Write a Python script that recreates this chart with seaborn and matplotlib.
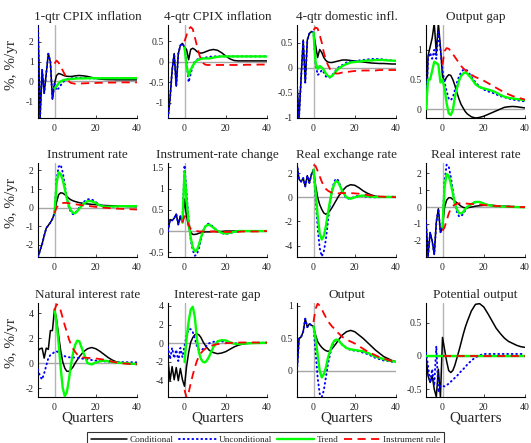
import numpy as np
import pandas as pd
import matplotlib
matplotlib.use("Agg")
import matplotlib.pyplot as plt
from matplotlib.lines import Line2D
import seaborn as sns

n = np.nan

# Quarter grid: quarterly up to 12, then every second quarter to 40
quarters = list(range(-8, 13)) + list(range(14, 41, 2))

# ---- 1-qtr CPIX inflation
cpi1_cond = [2.9, -1.85, 0.6, -0.6, 0.4, 1.4, 1.0, -0.9, -0.1,
             0.3, 0.4, 0.37, 0.32, 0.28, 0.26, 0.25, 0.25, 0.26, 0.28, 0.29, 0.3,
             0.28, 0.25, 0.2, 0.15, 0.12, 0.1, 0.09, 0.09, 0.08, 0.08, 0.08, 0.08, 0.08, 0.08]
cpi1_unc = [2.9, -1.85, 0.6, -0.6, 0.4, 1.4, 1.0, -0.9, -0.1,
            -0.45, -0.35, -0.2, -0.05, 0.05, 0.1, 0.13, 0.15, 0.17, 0.18, 0.18, 0.18,
            0.17, 0.16, 0.15, 0.15, 0.15, 0.15, 0.15, 0.15, 0.15, 0.15, 0.15, 0.15, 0.15, 0.15]
cpi1_trend = [n, n, n, n, n, n, n, n, -0.35,
              -0.25, -0.1, 0.0, 0.05, 0.08, 0.1, 0.11, 0.12, 0.13, 0.14, 0.15, 0.15,
              0.15, 0.16, 0.16, 0.16, 0.16, 0.16, 0.16, 0.16, 0.16, 0.16, 0.16, 0.16, 0.16, 0.16]
cpi1_rule = [n, n, n, n, n, n, n, n, 0.9,
             1.05, 0.95, 0.75, 0.55, 0.35, 0.15, 0.0, -0.08, -0.1, -0.12, -0.12, -0.11,
             -0.1, -0.09, -0.08, -0.08, -0.07, -0.07, -0.06, -0.06, -0.06, -0.05, -0.05, -0.05, -0.05, -0.05]

# ---- 4-qtr CPIX inflation
cpi4_cond = [-1.38, -0.9, -0.2, 0.2, -0.6, 0.2, 0.4, 0.45, 0.35,
             0.3, 0.05, 0.3, 0.33, 0.3, 0.25, 0.22, 0.21, 0.22, 0.24, 0.26, 0.28,
             0.3, 0.28, 0.22, 0.14, 0.07, 0.03, 0.02, 0.02, 0.02, 0.02, 0.02, 0.02, 0.02, 0.02]
cpi4_unc = [-1.38, -0.9, -0.2, 0.2, -0.6, 0.2, 0.4, 0.45, 0.35,
            0.0, -0.5, -0.3, -0.1, 0.0, 0.05, 0.07, 0.08, 0.09, 0.1, 0.11, 0.12,
            0.13, 0.13, 0.13, 0.13, 0.13, 0.13, 0.13, 0.13, 0.13, 0.13, 0.13, 0.13, 0.13, 0.13]
cpi4_trend = [n, n, n, n, n, n, n, n, 0.35,
              -0.1, -0.35, -0.2, -0.1, -0.02, 0.03, 0.05, 0.07, 0.08, 0.08, 0.08, 0.08,
              0.1, 0.12, 0.13, 0.13, 0.13, 0.13, 0.13, 0.13, 0.13, 0.13, 0.13, 0.13, 0.13, 0.13]
cpi4_rule = [n, n, n, n, n, n, n, n, 0.5,
             0.65, 0.8, 0.85, 0.8, 0.6, 0.4, 0.2, 0.05, -0.03, -0.07, -0.08, -0.08,
             -0.08, -0.08, -0.08, -0.08, -0.08, -0.08, -0.08, -0.08, -0.075, -0.075, -0.075, -0.07, -0.07, -0.07]

# ---- 4-qtr domestic inflation
dom4_cond = [-0.35, -1.0, -0.2, 0.55, -0.3, 0.55, 0.68, 0.72, 0.7,
             0.45, 0.2, 0.36, 0.3, 0.2, 0.14, 0.11, 0.1, 0.1, 0.11, 0.12, 0.13,
             0.15, 0.15, 0.14, 0.13, 0.12, 0.11, 0.1, 0.09, 0.085, 0.08, 0.08, 0.075, 0.07, 0.07]
dom4_unc = [-0.35, -1.0, -0.2, 0.55, -0.3, 0.55, 0.68, 0.72, 0.7,
            0.1, -0.15, -0.12, -0.05, -0.1, -0.18, -0.2, -0.2, -0.16, -0.1, -0.05, 0.0,
            0.05, 0.1, 0.12, 0.13, 0.14, 0.15, 0.16, 0.17, 0.17, 0.17, 0.16, 0.15, 0.14, 0.13]
dom4_trend = [n, n, n, n, n, n, n, n, 0.7,
              0.1, -0.03, 0.03, 0.0, -0.05, -0.12, -0.17, -0.19, -0.17, -0.12, -0.07, -0.03,
              0.03, 0.07, 0.1, 0.11, 0.12, 0.13, 0.14, 0.14, 0.15, 0.15, 0.15, 0.14, 0.14, 0.13]
dom4_rule = [n, n, n, n, n, n, n, n, 0.75,
             0.8, 0.78, 0.65, 0.5, 0.3, 0.15, 0.05, -0.03, -0.07, -0.1, -0.12, -0.12,
             -0.1, -0.09, -0.08, -0.07, -0.07, -0.06, -0.06, -0.06, -0.06, -0.05, -0.05, -0.05, -0.05, -0.05]

# ---- Output gap
gap_cond = [-0.15, 0.9, 1.05, 1.2, 1.45, 0.95, 1.45, 1.05, 0.55,
            0.47, 0.54, 0.58, 0.57, 0.5, 0.4, 0.28, 0.17, 0.08, 0.02, -0.04, -0.08,
            -0.13, -0.15, -0.14, -0.12, -0.09, -0.06, -0.03, 0.0, 0.03, 0.04, 0.045, 0.04, 0.03, 0.02]
gap_unc = [0.0, 0.85, 0.95, 0.85, 1.0, 0.85, 1.3, 1.0, 0.65,
           0.45, 0.3, 0.18, 0.15, 0.2, 0.32, 0.45, 0.55, 0.62, 0.66, 0.67, 0.65,
           0.55, 0.45, 0.38, 0.33, 0.3, 0.28, 0.25, 0.22, 0.2, 0.18, 0.16, 0.15, 0.14, 0.13]
gap_trend = [0.0, 0.5, 0.5, 0.65, 0.8, 0.78, 0.75, 0.45, 0.5,
             0.35, 0.1, -0.07, -0.1, -0.02, 0.2, 0.35, 0.48, 0.56, 0.6, 0.62, 0.6,
             0.52, 0.42, 0.37, 0.35, 0.33, 0.31, 0.28, 0.24, 0.21, 0.19, 0.18, 0.17, 0.16, 0.15]
gap_rule = [n, n, n, n, n, n, n, n, 0.75,
            0.98, 1.03, 1.02, 0.98, 0.93, 0.88, 0.83, 0.78, 0.73, 0.69, 0.66, 0.63,
            0.58, 0.54, 0.51, 0.48, 0.44, 0.4, 0.36, 0.32, 0.28, 0.25, 0.22, 0.2, 0.18, 0.16]

# ---- Instrument rate
irate_cond = [-2.65, -2.3, -1.95, -1.5, -1.1, -0.95, -0.8, -0.6, -0.3,
              0.3, 0.7, 0.8, 0.78, 0.7, 0.6, 0.5, 0.42, 0.37, 0.33, 0.3, 0.27,
              0.23, 0.2, 0.18, 0.16, 0.14, 0.12, 0.11, 0.1, 0.09, 0.08, 0.07, 0.06, 0.06, 0.05]
irate_unc = [-2.65, -2.3, -1.95, -1.5, -1.1, -0.95, -0.8, -0.6, -0.3,
             1.5, 2.2, 2.3, 1.9, 1.2, 0.5, 0.0, -0.25, -0.35, -0.3, -0.15, 0.0,
             0.3, 0.45, 0.45, 0.3, 0.15, 0.07, 0.05, 0.06, 0.07, 0.08, 0.08, 0.08, 0.08, 0.08]
irate_trend = [n, n, n, n, n, n, n, n, -0.3,
               1.3, 1.9, 1.8, 1.5, 1.0, 0.5, 0.1, -0.15, -0.28, -0.3, -0.2, -0.05,
               0.2, 0.35, 0.35, 0.25, 0.12, 0.06, 0.05, 0.06, 0.07, 0.08, 0.08, 0.08, 0.08, 0.08]
irate_rule = [n, n, n, n, n, n, n, n, -0.3,
              0.0, 0.15, 0.22, 0.25, 0.26, 0.25, 0.24, 0.22, 0.2, 0.18, 0.17, 0.15,
              0.12, 0.1, 0.07, 0.04, 0.02, 0.0, -0.02, -0.03, -0.05, -0.06, -0.07, -0.08, -0.09, -0.1]

# ---- Instrument-rate change
dirate_cond = [0.0, 0.27, 0.25, 0.3, 0.4, 0.15, 0.35, 0.2, 0.75,
               0.35, 0.1, -0.03, -0.08, -0.08, -0.07, -0.05, -0.04, -0.03, -0.02, -0.02, -0.02,
               -0.01, -0.01, -0.01, 0.0, 0.0, 0.0, 0.0, 0.0, 0.0, 0.0, 0.0, 0.0, 0.0, 0.0]
dirate_unc = [0.0, 0.27, 0.25, 0.3, 0.4, 0.15, 0.35, 0.2, 1.55,
              0.9, 0.25, -0.2, -0.45, -0.58, -0.55, -0.4, -0.2, 0.0, 0.1, 0.17, 0.17,
              0.1, 0.0, -0.05, -0.07, -0.05, -0.02, 0.0, 0.0, 0.0, 0.0, 0.0, 0.0, 0.0, 0.0]
dirate_trend = [n, n, n, n, n, n, n, 0.2, 1.4,
                0.75, 0.2, -0.15, -0.38, -0.48, -0.45, -0.32, -0.15, 0.0, 0.1, 0.14, 0.15,
                0.08, 0.0, -0.04, -0.06, -0.04, -0.02, 0.0, 0.0, 0.0, 0.0, 0.0, 0.0, 0.0, 0.0]
dirate_rule = [n, n, n, n, n, n, n, 0.2, 0.35,
               0.28, 0.15, 0.05, 0.03, 0.01, 0.0, -0.01, -0.01, -0.01, -0.01, -0.01, -0.01,
               -0.01, -0.02, -0.02, -0.02, -0.02, -0.02, -0.02, -0.01, -0.01, -0.01, -0.01, -0.01, 0.0, 0.0]

# ---- Real exchange rate
rex_cond = [2.75, 1.5, 1.3, 1.6, 0.9, 1.8, 1.2, 1.9, 2.3,
            1.0, 0.0, -0.6, -1.0, -1.3, -1.4, -1.3, -1.1, -0.85, -0.55, -0.25, 0.05,
            0.55, 0.9, 1.05, 1.0, 0.8, 0.55, 0.35, 0.2, 0.1, 0.05, 0.05, 0.05, 0.05, 0.05]
rex_unc = [2.75, 1.5, 1.3, 1.6, 0.9, 1.8, 1.2, 1.9, 2.3,
           0.0, -2.5, -4.2, -4.9, -4.5, -3.5, -2.0, -0.5, 0.6, 1.3, 1.55, 1.4,
           0.5, -0.1, -0.1, 0.05, 0.15, 0.1, 0.05, 0.0, 0.0, 0.02, 0.03, 0.05, 0.05, 0.05]
rex_trend = [n, n, n, n, n, n, n, n, 2.3,
             0.5, -1.5, -3.0, -3.5, -3.2, -2.4, -1.3, -0.3, 0.5, 1.1, 1.35, 1.25,
             0.5, 0.0, -0.12, 0.0, 0.1, 0.15, 0.1, 0.05, 0.03, 0.03, 0.03, 0.03, 0.03, 0.03]
rex_rule = [n, n, n, n, n, n, n, n, 2.7,
            2.6, 2.2, 1.75, 1.3, 0.95, 0.7, 0.55, 0.45, 0.4, 0.36, 0.34, 0.33,
            0.35, 0.36, 0.35, 0.33, 0.3, 0.25, 0.2, 0.15, 0.1, 0.07, 0.05, 0.03, 0.02, 0.02]

# ---- Real interest rate
rir_cond = [-0.8, -2.9, -1.5, -2.0, -2.8, -0.9, -0.1, -1.5, -1.2,
            0.0, 0.4, 0.55, 0.55, 0.45, 0.35, 0.25, 0.15, 0.05, -0.02, -0.05, -0.05,
            0.0, 0.05, 0.08, 0.1, 0.1, 0.1, 0.08, 0.06, 0.05, 0.03, 0.02, 0.01, 0.0, 0.0]
rir_unc = [-0.8, -2.9, -1.5, -2.0, -2.8, -0.9, -0.1, -1.5, -1.2,
           1.5, 2.5, 2.4, 1.8, 1.0, 0.2, -0.3, -0.55, -0.55, -0.4, -0.2, 0.0,
           0.2, 0.3, 0.3, 0.2, 0.12, 0.08, 0.05, 0.05, 0.04, 0.03, 0.02, 0.01, 0.0, 0.0]
rir_trend = [n, n, n, n, n, n, n, n, -1.2,
             1.2, 1.95, 1.85, 1.4, 0.8, 0.2, -0.15, -0.35, -0.38, -0.3, -0.12, 0.0,
             0.18, 0.3, 0.3, 0.2, 0.12, 0.08, 0.05, 0.04, 0.03, 0.02, 0.01, 0.0, -0.01, -0.02]
rir_rule = [n, n, n, n, n, n, n, n, -1.4,
            -1.2, -0.8, -0.4, -0.1, 0.05, 0.15, 0.2, 0.22, 0.22, 0.22, 0.21, 0.2,
            0.18, 0.17, 0.15, 0.12, 0.1, 0.08, 0.06, 0.05, 0.04, 0.03, 0.02, 0.01, 0.0, 0.0]

# ---- Natural interest rate
nat_cond = [1.0, 1.15, 1.2, 0.4, 1.2, 1.1, 2.6, 2.6, 4.3,
            3.5, 2.2, 1.0, 0.1, -0.4, -0.65, -0.65, -0.5, -0.3, 0.0, 0.25, 0.5,
            0.9, 1.15, 1.25, 1.15, 0.95, 0.7, 0.45, 0.25, 0.1, 0.03, 0.0, -0.05, -0.08, -0.1]
nat_unc = [-0.5, -1.05, -1.3, -0.8, -0.2, 0.4, 0.65, 0.75, 0.9,
           0.95, 0.85, 0.75, 0.65, 0.55, 0.5, 0.47, 0.45, 0.45, 0.45, 0.42, 0.4,
           0.35, 0.3, 0.25, 0.2, 0.18, 0.15, 0.12, 0.1, 0.09, 0.08, 0.08, 0.07, 0.07, 0.06]
nat_trend = [n, n, n, n, n, n, n, n, 4.3,
             3.2, 1.6, -0.4, -2.0, -2.65, -2.3, -1.3, -0.1, 0.8, 1.45, 1.8, 1.75,
             0.85, 0.0, -0.1, 0.05, 0.15, 0.2, 0.15, 0.1, 0.05, 0.02, 0.0, -0.02, -0.05, -0.08]
nat_rule = [n, n, n, n, n, n, n, n, 4.2,
            4.7, 4.6, 4.2, 3.6, 3.0, 2.5, 1.9, 1.5, 1.15, 0.9, 0.7, 0.55,
            0.45, 0.42, 0.4, 0.37, 0.33, 0.28, 0.2, 0.12, 0.05, 0.0, -0.03, -0.05, -0.07, -0.08]

# ---- Interest-rate gap
irgap_cond = [-1.8, -4.0, -2.5, -3.9, -2.6, -4.0, -2.7, -3.9, -4.6,
              -2.5, -1.0, 0.1, 0.6, 0.9, 1.0, 0.9, 0.6, 0.15, -0.2, -0.5, -0.75,
              -1.0, -1.12, -1.05, -0.9, -0.65, -0.4, -0.22, -0.1, -0.03, 0.0, 0.02, 0.02, 0.03, 0.03]
irgap_unc = [-0.4, -1.7, -0.5, -1.6, -0.7, -1.9, -0.5, -1.5, -0.3,
             0.8, 1.5, 1.5, 1.2, 0.5, -0.3, -0.7, -0.75, -0.6, -0.4, -0.2, 0.0,
             0.15, 0.2, 0.2, 0.12, 0.05, 0.0, -0.02, 0.0, 0.02, 0.03, 0.04, 0.05, 0.05, 0.05]
irgap_trend = [n, n, n, n, n, n, n, n, -2.0,
               0.5, 2.3, 3.6, 3.9, 2.8, 0.5, -1.0, -1.7, -2.0, -2.05, -1.8, -1.4,
               -0.4, 0.2, 0.33, 0.3, 0.1, -0.05, -0.08, -0.05, -0.02, 0.0, 0.02, 0.03, 0.04, 0.05]
irgap_rule = [n, n, n, n, n, n, n, n, -5.0,
              -5.8, -5.3, -4.3, -3.4, -2.6, -1.9, -1.4, -1.05, -0.8, -0.6, -0.45, -0.35,
              -0.2, -0.1, -0.05, 0.0, 0.03, 0.05, 0.07, 0.08, 0.08, 0.08, 0.08, 0.07, 0.07, 0.07]

# ---- Output
out_cond = [0.0, 0.5, 0.52, 0.6, 0.8, 0.67, 0.72, 0.7, 0.68,
            0.55, 0.45, 0.4, 0.36, 0.33, 0.31, 0.3, 0.31, 0.34, 0.38, 0.42, 0.47,
            0.55, 0.6, 0.62, 0.6, 0.55, 0.5, 0.44, 0.38, 0.32, 0.27, 0.22, 0.19, 0.16, 0.14]
out_unc = [0.0, 0.5, 0.52, 0.6, 0.8, 0.67, 0.72, 0.7, 0.68,
           0.3, -0.1, -0.35, -0.4, -0.3, -0.1, 0.1, 0.25, 0.38, 0.45, 0.48, 0.47,
           0.4, 0.35, 0.32, 0.31, 0.3, 0.28, 0.26, 0.23, 0.2, 0.18, 0.16, 0.15, 0.14, 0.13]
out_trend = [n, n, n, n, n, n, n, n, 0.68,
             0.5, 0.25, 0.0, -0.1, -0.05, 0.05, 0.2, 0.3, 0.4, 0.46, 0.48, 0.47,
             0.4, 0.35, 0.33, 0.32, 0.31, 0.3, 0.28, 0.25, 0.22, 0.2, 0.18, 0.16, 0.15, 0.14]
out_rule = [n, n, n, n, n, n, n, n, 0.75,
            0.95, 1.03, 1.0, 0.95, 0.88, 0.82, 0.76, 0.72, 0.68, 0.65, 0.61, 0.58,
            0.52, 0.48, 0.45, 0.42, 0.38, 0.34, 0.3, 0.27, 0.24, 0.21, 0.19, 0.17, 0.15, 0.14]

# ---- Potential output
pot_cond = [0.0, -0.3, -0.4, -0.3, -0.5, -0.62, -0.2, -0.62, 0.28,
            0.1, -0.08, -0.22, -0.25, -0.22, -0.14, -0.03, 0.08, 0.2, 0.32, 0.43, 0.52,
            0.68, 0.78, 0.79, 0.74, 0.64, 0.53, 0.42, 0.34, 0.27, 0.22, 0.19, 0.16, 0.14, 0.13]
pot_unc = [0.05, -0.15, -0.4, -0.2, -0.45, 0.15, -0.55, -0.45, -0.45,
           -0.46, -0.44, -0.42, -0.39, -0.36, -0.33, -0.3, -0.27, -0.23, -0.2, -0.17, -0.13,
           -0.07, -0.02, 0.01, 0.03, 0.03, 0.03, 0.03, 0.03, 0.03, 0.03, 0.03, 0.03, 0.03, 0.03]
pot_trend = [0.0] * 35
pot_rule = [n] * 8 + [0.0] * 27

titles = ["1-qtr CPIX inflation", "4-qtr CPIX inflation", "4-qtr domestic infl.", "Output gap",
          "Instrument rate", "Instrument-rate change", "Real exchange rate", "Real interest rate",
          "Natural interest rate", "Interest-rate gap", "Output", "Potential output"]
y_limits = [(-1.85, 2.85), (-1.38, 0.9), (-1.01, 0.85), (-0.15, 1.42),
            (-2.65, 2.4), (-0.61, 1.6), (-4.95, 2.85), (-2.95, 2.6),
            (-2.7, 4.8), (-5.75, 4.3), (-0.4, 1.04), (-0.62, 0.8)]
y_ticks = [[-1, 0, 1, 2], [-1, -0.5, 0, 0.5], [-1, -0.5, 0, 0.5], [0, 0.5, 1],
           [-2, -1, 0, 1, 2], [-0.5, 0, 0.5, 1, 1.5], [-4, -2, 0, 2], [-2, -1, 0, 1, 2],
           [-2, 0, 2, 4], [-4, -2, 0, 2, 4], [0, 0.5, 1], [-0.5, 0, 0.5]]
x_ticks = [0, 20, 40]
series_names = ["Conditional", "Unconditional", "Trend", "Instrument rule"]
panel_series = [
    (cpi1_cond, cpi1_unc, cpi1_trend, cpi1_rule),
    (cpi4_cond, cpi4_unc, cpi4_trend, cpi4_rule),
    (dom4_cond, dom4_unc, dom4_trend, dom4_rule),
    (gap_cond, gap_unc, gap_trend, gap_rule),
    (irate_cond, irate_unc, irate_trend, irate_rule),
    (dirate_cond, dirate_unc, dirate_trend, dirate_rule),
    (rex_cond, rex_unc, rex_trend, rex_rule),
    (rir_cond, rir_unc, rir_trend, rir_rule),
    (nat_cond, nat_unc, nat_trend, nat_rule),
    (irgap_cond, irgap_unc, irgap_trend, irgap_rule),
    (out_cond, out_unc, out_trend, out_rule),
    (pot_cond, pot_unc, pot_trend, pot_rule),
]

# ---- styling
sns.set_style("ticks")
plt.rcParams["font.family"] = ["Liberation Serif", "DejaVu Serif"]
plt.rcParams["axes.unicode_minus"] = False

line_styles = {
    "Conditional": dict(color="#000000", lw=1.1, linestyle="-"),
    "Unconditional": dict(color="#0000ff", lw=1.4, linestyle=(0, (0.4, 1.9)),
                          dash_capstyle="round"),
    "Trend": dict(color="#00ff00", lw=1.7, linestyle="-"),
    "Instrument rule": dict(color="#ff0000", lw=1.3, linestyle=(0, (4.5, 3.0))),
}

W, H = 531, 443
fig = plt.figure(figsize=(W / 100, H / 100), dpi=100)

col_left = [38, 168, 297, 426]
col_width = 99
row_top = [25, 163, 303]
row_bottom = [118, 257, 397]

for i in range(12):
    r, c = divmod(i, 4)
    ax = fig.add_axes([col_left[c] / W, 1 - row_bottom[r] / H, col_width / W,
                       (row_bottom[r] - row_top[r]) / H])
    ax.axhline(0, color="#a6a6a6", lw=1.0, zorder=1)
    ax.axvline(0, color="#b4b4b4", lw=1.0, zorder=1)
    for k, (name, vals) in enumerate(zip(series_names, panel_series[i])):
        df = pd.DataFrame({"quarter": quarters, "value": vals}).dropna()
        sns.lineplot(data=df, x="quarter", y="value", ax=ax, estimator=None,
                     sort=False, legend=False, zorder=3 + k, **line_styles[name])
    ax.set_xlim(-8, 40)
    ax.set_ylim(*y_limits[i])
    ax.set_xticks(x_ticks)
    ax.set_yticks(y_ticks[i])
    ax.set_yticklabels([f"{v:g}" for v in y_ticks[i]])
    ax.tick_params(direction="in", length=2.5, width=0.6, labelsize=7, pad=3)
    ax.tick_params(axis="x", pad=4)
    for side in ("top", "right"):
        ax.spines[side].set_visible(False)
    for side in ("left", "bottom"):
        ax.spines[side].set_linewidth(0.8)
        ax.spines[side].set_color("black")
    ax.set_title(titles[i], fontsize=9.5, pad=3.5)
    ax.set_ylabel("")
    if r == 2:
        ax.set_xlabel("Quarters", fontsize=11, labelpad=0)
    else:
        ax.set_xlabel("")

for r in range(3):
    yc = (row_top[r] + row_bottom[r]) / 2 - 7
    fig.text(12 / W, 1 - yc / H, "%, %/yr", rotation=90, fontsize=11,
             ha="center", va="center")

handles = [Line2D([], [], **line_styles[name]) for name in series_names]
leg = fig.legend(handles, series_names, loc="upper center", ncol=4,
                 bbox_to_anchor=(0.5, 1 - 432 / H), fontsize=6.7, frameon=True,
                 fancybox=False, edgecolor="black", handlelength=3.9,
                 handletextpad=0.3, columnspacing=0.6, borderpad=0.4,
                 borderaxespad=0)
leg.get_frame().set_linewidth(0.8)

fig.savefig("out.png", dpi=100)
